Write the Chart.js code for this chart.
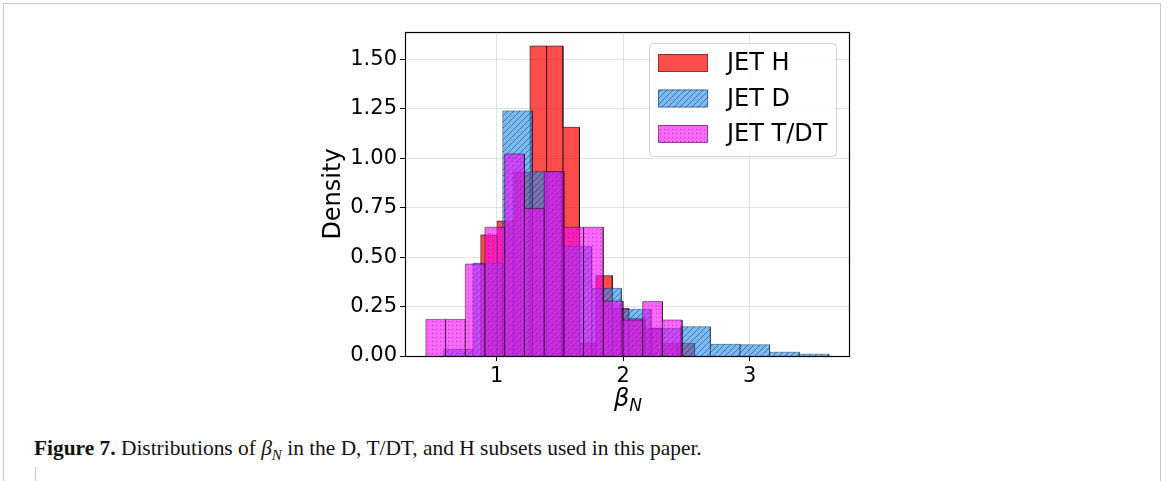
<!DOCTYPE html>
<html>
<head>
<meta charset="utf-8">
<script src="https://cdn.jsdelivr.net/npm/chart.js@4.4.1/dist/chart.umd.min.js"></script>
<style>
  body { margin: 0; background: #fff; width: 1167px; height: 481px; position: relative; overflow: hidden; }
  #frame { position: absolute; left: 3px; top: 3px; width: 1156px; height: 500px; border: 1px solid #c9c9c9; border-bottom: none; }
  #wrap { position: absolute; left: 319px; top: 0; }
  #xlabel { position: absolute; left: 614px; top: 384px; font: italic 24px "DejaVu Sans"; color: #000; }
  #xlabel sub { font-size: 17px; vertical-align: -5px; }
  #caption { position: absolute; left: 34px; top: 436px; font: 21.4px "Liberation Serif", serif; color: #111; white-space: nowrap; }
  #caption i sub { font-size: 15px; }
  #tick { position: absolute; left: 35px; top: 467px; width: 1px; height: 20px; background: #c9c9c9; }
</style>
</head>
<body>
<div id="frame"></div>
<div id="wrap"><canvas id="hist" width="545" height="396"></canvas></div>
<div id="xlabel">β<sub>N</sub></div>
<div id="caption"><b>Figure 7.</b> Distributions of <i>β<sub>N</sub></i> in the D, T/DT, and H subsets used in this paper.</div>
<div id="tick"></div>
<script>
// bin edges and density heights
var hEdges = [0.874, 1.004, 1.134, 1.264, 1.394, 1.524, 1.654, 1.784, 1.914, 2.044, 2.174, 2.304, 2.434, 2.564];
var hDensity = [0.612, 0.682, 0.93, 1.567, 1.567, 1.156, 0.064, 0.406, 0.24, 0.19, 0.14, 0.064, 0.064];

var dEdges = [0.579, 0.813, 1.048, 1.282, 1.517, 1.751, 1.985, 2.220, 2.454, 2.689, 2.923, 3.157, 3.392, 3.626];
var dDensity = [0.034, 0.469, 1.239, 0.932, 0.553, 0.342, 0.236, 0.14, 0.148, 0.059, 0.057, 0.019, 0.009];

var tEdges = [0.440, 0.596, 0.752, 0.907, 1.063, 1.219, 1.375, 1.531, 1.686, 1.842, 1.998, 2.154, 2.310, 2.466];
var tDensity = [0.185, 0.185, 0.465, 0.651, 1.021, 0.746, 0.932, 0.651, 0.651, 0.278, 0.182, 0.275, 0.182];

var labels = ["JET H", "JET D", "JET T/DT"];
var xTicks = [1, 2, 3];
var yTicks = [0, 0.25, 0.5, 0.75, 1.0, 1.25, 1.5];

// outline of a histogram: up, across, down for every bin
function outline(edges, heights) {
  var pts = [{ x: edges[0], y: 0 }];
  heights.forEach(function (h, i) {
    pts.push({ x: edges[i], y: h }, { x: edges[i + 1], y: h }, { x: edges[i + 1], y: 0 });
  });
  return pts;
}

function hatch(bg, line, size) {
  var c = document.createElement("canvas");
  c.width = c.height = size;
  var g = c.getContext("2d");
  g.fillStyle = bg;
  g.fillRect(0, 0, size, size);
  g.strokeStyle = line;
  g.lineWidth = 1;
  g.beginPath();
  g.moveTo(0, size); g.lineTo(size, 0);
  g.moveTo(-2, 2); g.lineTo(2, -2);
  g.moveTo(size - 2, size + 2); g.lineTo(size + 2, size - 2);
  g.stroke();
  return g.createPattern(c, "repeat");
}

function dots(bg, dot, size) {
  var c = document.createElement("canvas");
  c.width = c.height = size;
  var g = c.getContext("2d");
  g.fillStyle = bg;
  g.fillRect(0, 0, size, size);
  g.fillStyle = dot;
  g.fillRect(1, 1, 1, 1);
  return g.createPattern(c, "repeat");
}

var fills = [
  "rgba(255,0,0,0.7)",
  hatch("rgba(30,144,255,0.6)", "rgba(40,30,30,0.5)", 6),
  dots("rgba(255,0,255,0.6)", "rgba(60,70,60,0.5)", 4)
];
var edges = ["rgba(0,0,0,0.55)", "rgba(0,0,0,0.35)", "rgba(0,0,0,0.45)"];

var frameAndLegend = {
  id: "frameAndLegend",
  afterDraw: function (chart) {
    var ctx = chart.ctx, a = chart.chartArea;
    ctx.save();
    ctx.strokeStyle = "#000";
    ctx.lineWidth = 1.2;
    ctx.strokeRect(Math.round(a.left) + 0.5, Math.round(a.top) + 0.5, Math.round(a.right - a.left), Math.round(a.bottom - a.top));

    // legend box, upper right
    var bx = 330.5, by = 43.5, bw = 187, bh = 113;
    ctx.beginPath();
    ctx.roundRect(bx, by, bw, bh, 4);
    ctx.fillStyle = "rgba(255,255,255,0.8)";
    ctx.fill();
    ctx.strokeStyle = "#d0d0d0";
    ctx.lineWidth = 1;
    ctx.stroke();
    ctx.font = '24px "DejaVu Sans"';
    ctx.textBaseline = "middle";
    for (var i = 0; i < labels.length; i++) {
      var ry = 54 + i * 35.5;
      ctx.fillStyle = "#fff";
      ctx.fillRect(339, ry, 50, 18);
      ctx.fillStyle = fills[i];
      ctx.fillRect(339, ry, 50, 18);
      ctx.strokeStyle = "rgba(0,0,0,0.4)";
      ctx.strokeRect(339.5, ry + 0.5, 49, 17);
      ctx.fillStyle = "#000";
      ctx.fillText(labels[i], 408, ry + 10);
    }
    ctx.restore();
  }
};

var tickFont = { family: "DejaVu Sans", size: 21 };
var gridOpts = { color: "rgba(176,176,176,0.35)", tickColor: "#000", tickLength: 5, lineWidth: 1 };

new Chart(document.getElementById("hist"), {
  type: "line",
  data: {
    datasets: [
      { label: labels[0], data: outline(hEdges, hDensity), order: 3 },
      { label: labels[1], data: outline(dEdges, dDensity), order: 2 },
      { label: labels[2], data: outline(tEdges, tDensity), order: 1 }
    ].map(function (ds, i) {
      ds.backgroundColor = fills[i];
      ds.borderColor = edges[i];
      ds.borderWidth = 1;
      ds.fill = "origin";
      ds.pointRadius = 0;
      ds.tension = 0;
      return ds;
    })
  },
  options: {
    responsive: false,
    animation: false,
    layout: { padding: { top: 32, right: 15, left: 0, bottom: 0 } },
    plugins: { legend: { display: false }, tooltip: { enabled: false } },
    scales: {
      x: {
        type: "linear",
        min: 0.275,
        max: 3.785,
        z: 1,
        grid: gridOpts,
        border: { display: false },
        ticks: { font: tickFont, color: "#000", padding: 3, callback: function (v) { return v; } },
        afterBuildTicks: function (s) { s.ticks = xTicks.map(function (v) { return { value: v }; }); },
        afterFit: function (s) { s.height = 40; }
      },
      y: {
        type: "linear",
        min: 0,
        max: 1.638,
        z: 1,
        grid: gridOpts,
        border: { display: false },
        ticks: { font: tickFont, color: "#000", padding: 3, callback: function (v) { return v.toFixed(2); } },
        afterBuildTicks: function (s) { s.ticks = yTicks.map(function (v) { return { value: v }; }); },
        afterFit: function (s) { s.width = 86; },
        title: { display: true, text: "Density", color: "#000", font: { family: "DejaVu Sans", size: 24 }, padding: 0 }
      }
    }
  },
  plugins: [frameAndLegend]
});
</script>
</body>
</html>
